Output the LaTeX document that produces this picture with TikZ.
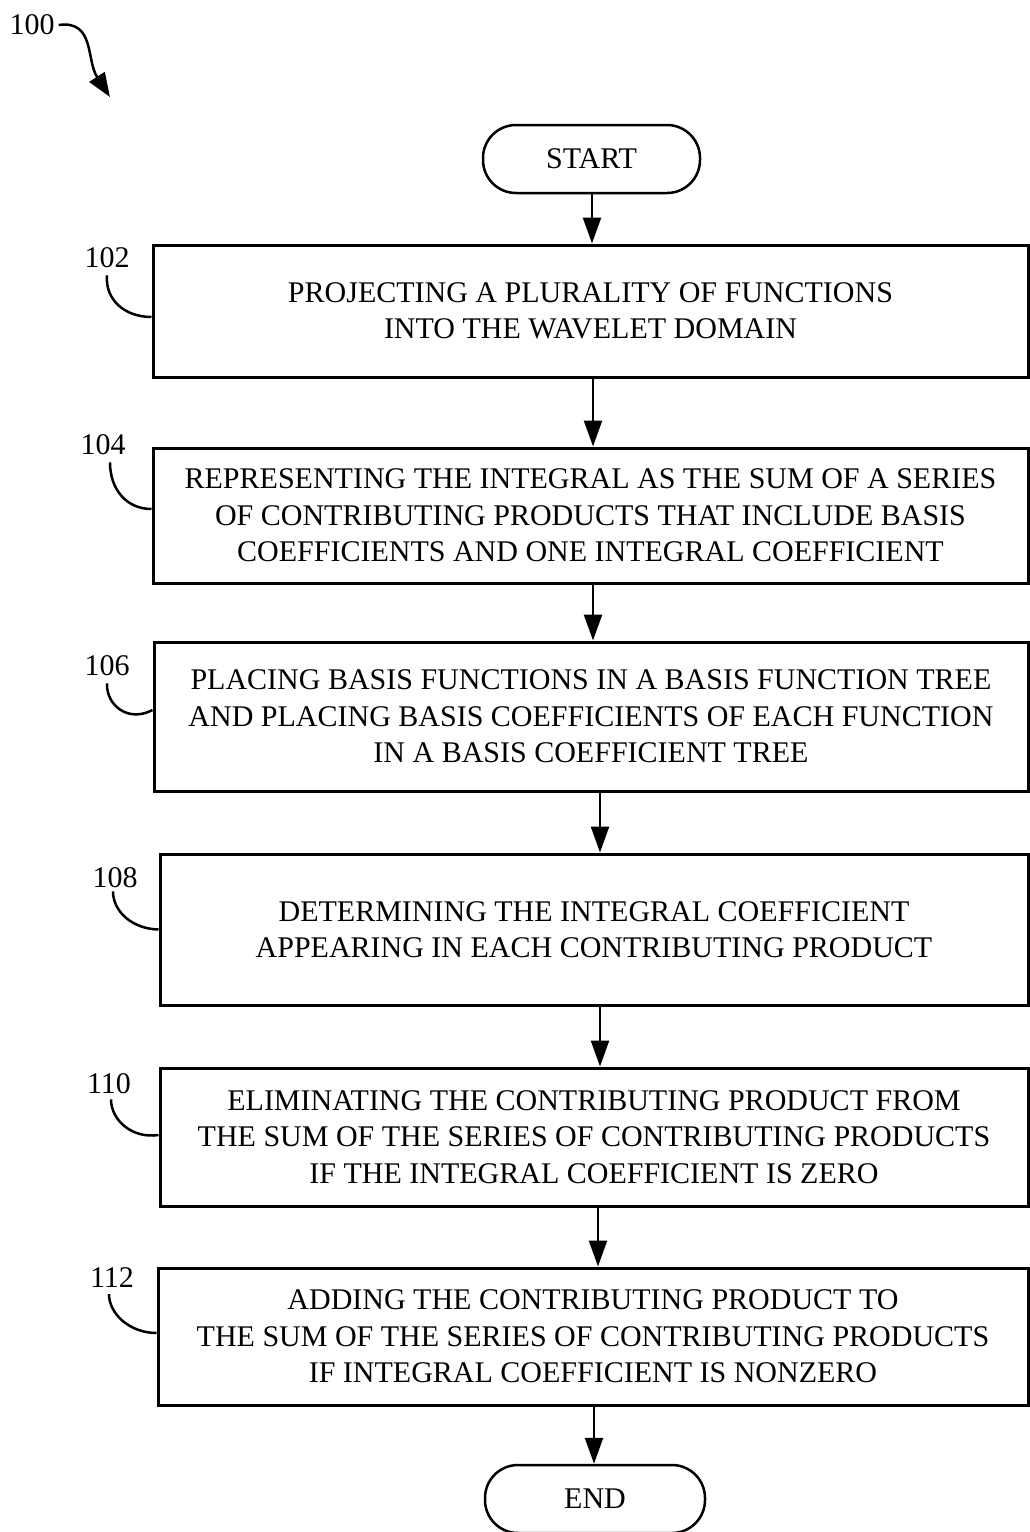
\documentclass[tikz,border=0pt]{standalone}
\usepackage{fontspec}
\setmainfont{Liberation Serif}
\usetikzlibrary{arrows.meta}
\begin{document}
\begin{tikzpicture}[x=1pt,y=-1pt,
  txt/.style={font=\fontsize{30}{36.5}\selectfont},
  stepbox/.style={draw,line width=3pt,align=center,inner sep=0pt,txt},
  term/.style={draw,line width=2.5pt,rounded corners=33pt,align=center,inner sep=0pt,txt},
  arr/.style={line width=2.5pt,-{Triangle[length=26pt,width=18pt]}},
  lead/.style={line width=2.5pt},
  lbl/.style={inner sep=0pt,txt}]
\useasboundingbox (0,0) rectangle (1029,1532);

\node[term,minimum width=217pt,minimum height=68pt] (start) at (591.5,159) {START};
\node[stepbox,minimum width=875pt,minimum height=132pt] (b102) at (590.5,311)
  {PROJECTING A PLURALITY OF FUNCTIONS\\INTO THE WAVELET DOMAIN};
\node[stepbox,minimum width=875pt,minimum height=135pt] (b104) at (590.5,515.5)
  {REPRESENTING THE INTEGRAL AS THE SUM OF A SERIES\\OF CONTRIBUTING PRODUCTS THAT INCLUDE BASIS\\COEFFICIENTS AND ONE INTEGRAL COEFFICIENT};
\node[stepbox,minimum width=874pt,minimum height=149pt] (b106) at (591,716.5)
  {PLACING BASIS FUNCTIONS IN A BASIS FUNCTION TREE\\AND PLACING BASIS COEFFICIENTS OF EACH FUNCTION\\IN A BASIS COEFFICIENT TREE};
\node[stepbox,minimum width=868pt,minimum height=151pt] (b108) at (594,929.5)
  {DETERMINING THE INTEGRAL COEFFICIENT\\APPEARING IN EACH CONTRIBUTING PRODUCT};
\node[stepbox,minimum width=868pt,minimum height=138pt] (b110) at (594,1137)
  {ELIMINATING THE CONTRIBUTING PRODUCT FROM\\THE SUM OF THE SERIES OF CONTRIBUTING PRODUCTS\\IF THE INTEGRAL COEFFICIENT IS ZERO};
\node[stepbox,minimum width=870pt,minimum height=137pt] (b112) at (593,1336.5)
  {ADDING THE CONTRIBUTING PRODUCT TO\\THE SUM OF THE SERIES OF CONTRIBUTING  PRODUCTS\\IF INTEGRAL COEFFICIENT IS NONZERO};
\node[term,minimum width=220pt,minimum height=68pt] (end) at (595,1499) {END};

\draw[arr] ([xshift=0.5pt]start.south) -- ([xshift=1.5pt]b102.north);
\draw[arr] ([xshift=2.5pt]b102.south) -- ([xshift=2.5pt]b104.north);
\draw[arr] ([xshift=2.5pt]b104.south) -- ([xshift=2pt]b106.north);
\draw[arr] ([xshift=9pt]b106.south) -- ([xshift=6pt]b108.north);
\draw[arr] ([xshift=6pt]b108.south) -- ([xshift=6pt]b110.north);
\draw[arr] ([xshift=4pt]b110.south) -- ([xshift=5pt]b112.north);
\draw[arr] ([xshift=1pt]b112.south) -- ([xshift=-1pt]end.north);

% reference labels
\node[lbl] (l100) at (32,25) {100};
\node[lbl] (l102) at (107,258) {102};
\node[lbl] (l104) at (103,445) {104};
\node[lbl] (l106) at (107,666) {106};
\node[lbl] (l108) at (115,878) {108};
\node[lbl] (l110) at (109,1084) {110};
\node[lbl] (l112) at (112,1278) {112};

\coordinate (t100) at (110,97);
\draw[line width=2.5pt,-{Triangle[length=24pt,width=18pt]}]
  ([xshift=4pt]l100.east) .. controls (95,20) and (86,60) .. (t100);

\draw[lead] ([yshift=-7pt]l102.south) .. controls (105,300) and (125,317) .. ([yshift=-6pt]b102.west);
\draw[lead] ([xshift=7pt,yshift=-7pt]l104.south) .. controls (110,490) and (127,509) .. ([yshift=6.5pt]b104.west);
\draw[lead] ([yshift=-7pt]l106.south) .. controls (106,705) and (128,723) .. ([yshift=6.5pt]b106.west);
\draw[lead] ([xshift=-2pt,yshift=-3pt]l108.south) .. controls (113,912) and (133,929) .. (b108.west);
\draw[lead] ([xshift=2pt,yshift=-5pt]l110.south) .. controls (111,1120) and (132,1139) .. ([yshift=2pt]b110.west);
\draw[lead] ([xshift=-3pt,yshift=-6pt]l112.south) .. controls (109,1314) and (130,1333) .. ([yshift=3.5pt]b112.west);
\end{tikzpicture}
\end{document}
